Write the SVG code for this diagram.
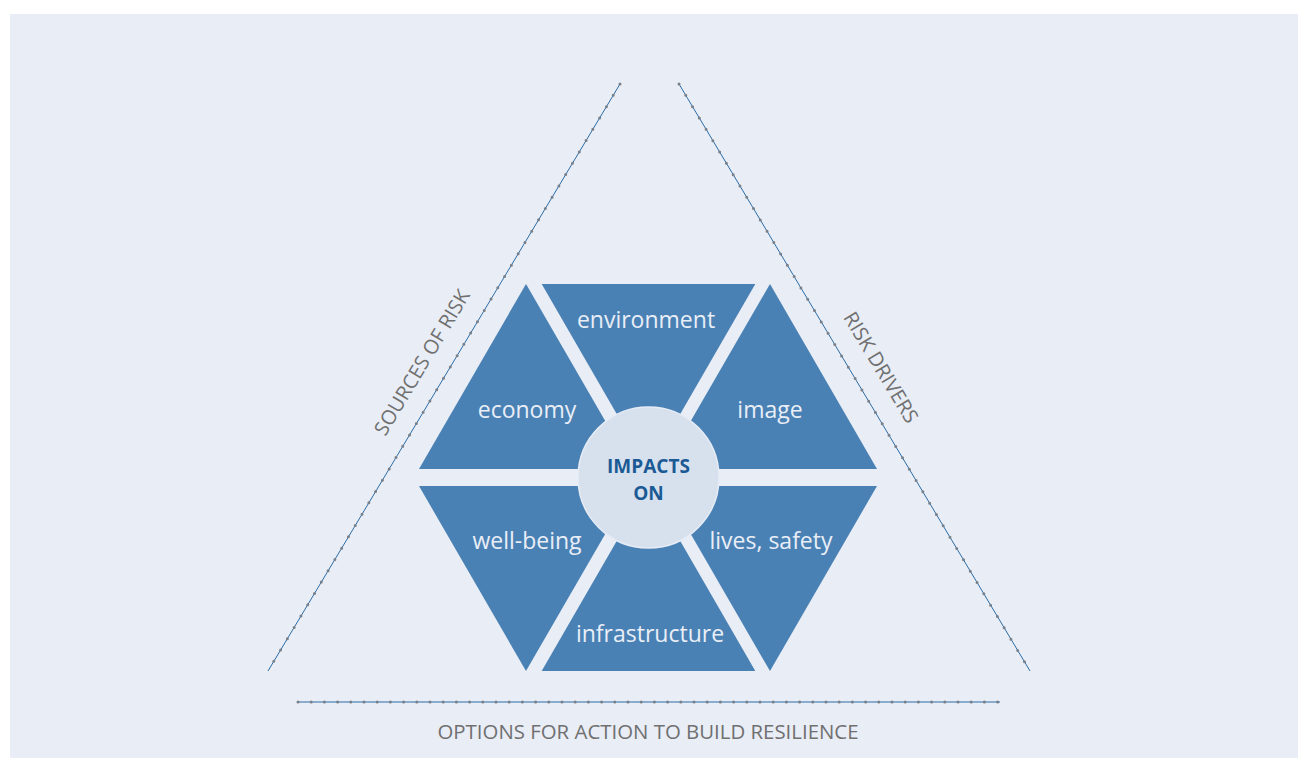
<svg xmlns="http://www.w3.org/2000/svg" width="1298" height="758" viewBox="0 0 1298 758">
<style>
.tri{fill:#4a81b4}
.lbl{font-family:"Open Sans","Liberation Sans",sans-serif;font-size:23px;fill:#e9eef7;text-anchor:middle}
.side{font-family:"Open Sans","Liberation Sans",sans-serif;font-size:20px;fill:#707070;text-anchor:middle}
.ln{stroke:#2c6ca6;stroke-width:1;fill:none}
.dots{stroke:#7a8088;stroke-width:3;stroke-linecap:round;stroke-dasharray:0 13.2;fill:none}
.ctr{font-family:"Open Sans","Liberation Sans",sans-serif;font-size:19px;font-weight:bold;fill:#1b5a94;text-anchor:middle}
</style>
<rect x="0" y="0" width="1298" height="758" fill="#ffffff"/>
<rect x="10" y="14" width="1288" height="744" fill="#e8edf6"/>
<g id="connectors">
<line class="ln" x1="620" y1="84" x2="268" y2="671"/>
<line class="dots" x1="620" y1="84" x2="268" y2="671"/>
<line class="ln" x1="679" y1="84" x2="1030" y2="671"/>
<line class="dots" x1="679" y1="84" x2="1030" y2="671"/>
<line class="ln" x1="298" y1="702" x2="1000" y2="702"/>
<line class="dots" x1="298" y1="702" x2="1000" y2="702"/>
</g>
<g id="economy">
<polygon class="tri" points="419,469 633,469 526,284"/>
<text class="lbl" x="527" y="418">economy</text>
</g>
<g id="environment">
<polygon class="tri" points="541.7,284 755.3,284 648.5,469"/>
<text class="lbl" x="646" y="328">environment</text>
</g>
<g id="image">
<polygon class="tri" points="663,469 877,469 770,284"/>
<text class="lbl" x="770" y="418">image</text>
</g>
<g id="well-being">
<polygon class="tri" points="419,486 633,486 526,671"/>
<text class="lbl" x="527" y="549">well-being</text>
</g>
<g id="infrastructure">
<polygon class="tri" points="541.7,671 755.3,671 648.5,486"/>
<text class="lbl" x="650" y="642">infrastructure</text>
</g>
<g id="lives-safety">
<polygon class="tri" points="663,486 877,486 770,671"/>
<text class="lbl" x="771" y="549">lives, safety</text>
</g>
<g id="impacts-on">
<circle cx="648.5" cy="477.5" r="70.5" fill="#d7e1ee" stroke="#e6ecf5" stroke-width="1.5"/>
<text class="ctr" x="648.5" y="473">IMPACTS</text>
<text class="ctr" x="648.5" y="500">ON</text>
</g>
<g id="sources-of-risk">
<text class="side" transform="translate(428,366) rotate(-59)">SOURCES OF RISK</text>
</g>
<g id="risk-drivers">
<text class="side" transform="translate(875,371) rotate(59)">RISK DRIVERS</text>
</g>
<g id="options">
<text class="side" x="648" y="739" style="font-size:20.4px">OPTIONS FOR ACTION TO BUILD RESILIENCE</text>
</g>
</svg>
